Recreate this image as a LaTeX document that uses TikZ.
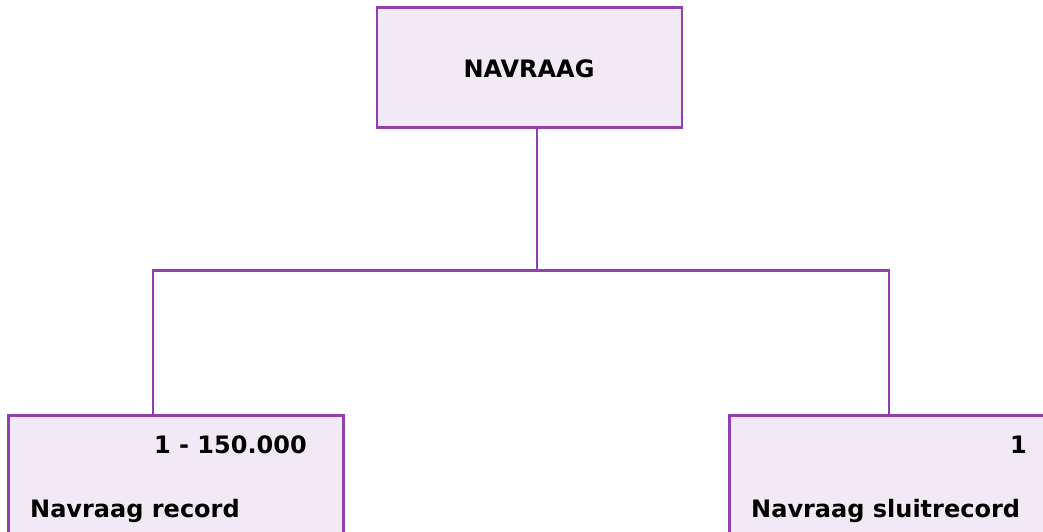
\documentclass[tikz,border=0pt]{standalone}
\usepackage{fontspec}
\setmainfont{DejaVu Sans}
\definecolor{boxline}{RGB}{146,64,176}
\definecolor{boxfill}{RGB}{241,233,243}
\tikzset{
  recbox/.style={draw=boxline,fill=boxfill,line width=2.2pt,rectangle,inner sep=0pt},
  link/.style={draw=boxline,line width=2.2pt},
  lbl/.style={inner sep=0pt,font=\fontsize{24}{28}\selectfont\bfseries}
}
\begin{document}
\begin{tikzpicture}[x=1pt,y=-1pt]
      \useasboundingbox (0,0) rectangle (1043,531);
      \clip (0,0) rectangle (1043,531);

      \begin{scope}[every node/.style={recbox}]
        \node (top)   [minimum width=305pt,minimum height=120pt] at (529.5,67.5) {};
        \node (left)  [minimum width=335pt,minimum height=130pt] at (176,480.5) {};
        \node (right) [minimum width=340pt,minimum height=130pt] at (899.5,480.5) {};
      \end{scope}

      \coordinate (hub)   at (537,270.5);
      \coordinate (lknee) at (153,270.5);
      \coordinate (rknee) at (889,270.5);

      \draw[link] (top.south -| hub) -- (hub);
      \draw[link] (lknee |- left.north) -- (lknee) -- (rknee) -- (rknee |- right.north);

      \begin{scope}[every node/.style={lbl}]
        \node (toplbl)    [anchor=base]      at (529,77)  {NAVRAAG};
        \node (leftnum)   [anchor=base east] at (307,453) {1 - 150.000};
        \node (leftlbl)   [anchor=base west] at (30,517)  {Navraag record};
        \node (rightnum)  [anchor=base east] at (1027,453) {1};
        \node (rightlbl)  [anchor=base west] at (751,517) {Navraag sluitrecord};
      \end{scope}

\end{tikzpicture}
\end{document}
